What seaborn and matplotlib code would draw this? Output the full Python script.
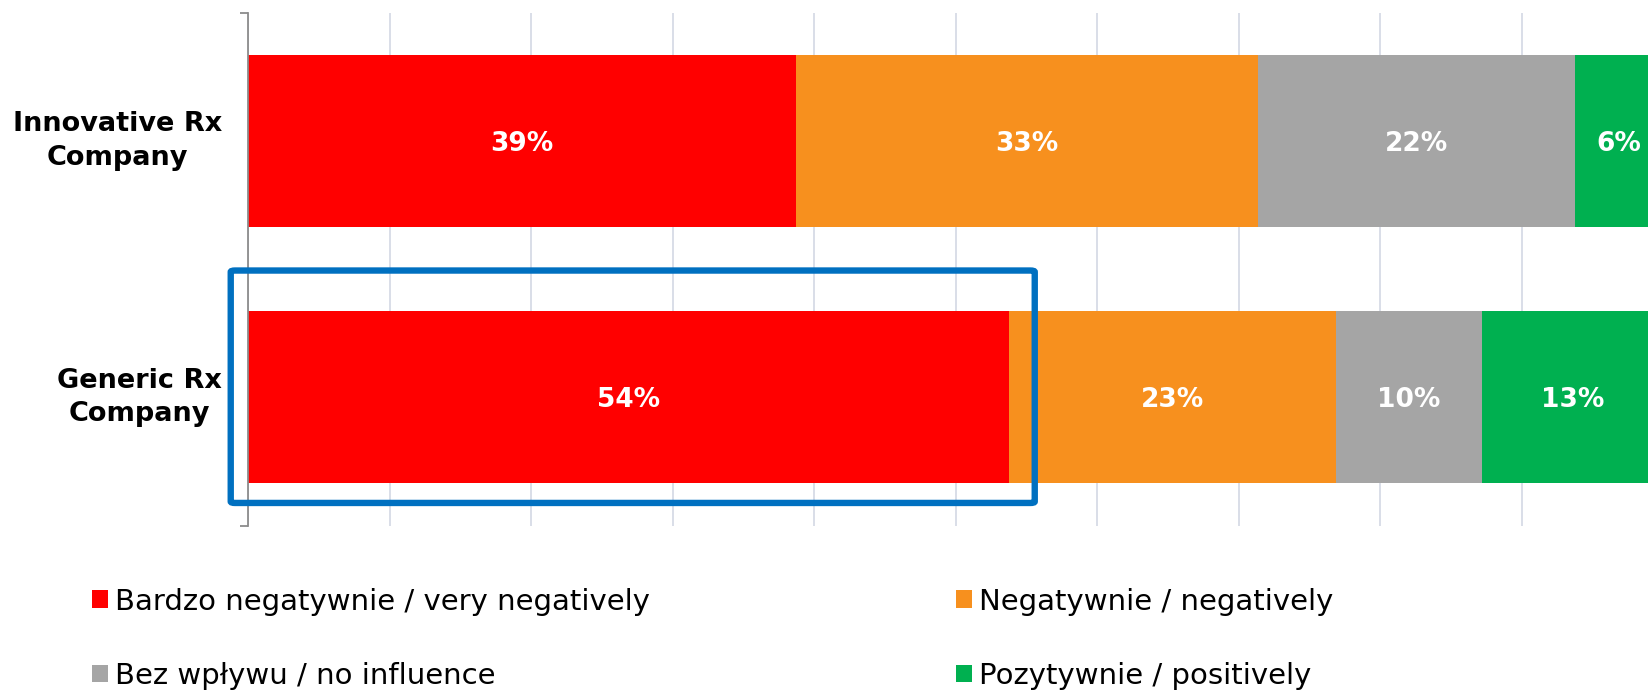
import matplotlib
matplotlib.use("Agg")
import matplotlib.pyplot as plt
import seaborn as sns
import pandas as pd
import numpy as np
from matplotlib.patches import FancyBboxPatch, Patch

categories = ["Innovative Rx\nCompany", "Generic Rx\nCompany"]
series_names = ["Bardzo negatywnie / very negatively", "Negatywnie / negatively",
                "Bez wpływu / no influence", "Pozytywnie / positively"]
very_negative = [38.7, 53.8]
negative = [32.7, 23.1]
no_influence = [22.4, 10.3]
positive = [6.2, 12.8]
colors = ["#FF0000", "#F7901E", "#A5A5A5", "#00B050"]

series = [very_negative, negative, no_influence, positive]

sns.set_theme(style="white")
plt.rcParams['font.family'] = ['DejaVu Sans']

fig = plt.figure(figsize=(16.48, 6.94), dpi=100)
ax = fig.add_axes([248/1648, 1 - 525.5/694, (1663-248)/1648, (525.5-13)/694])

data = np.array(series)  # shape (4, 2)
cum = np.cumsum(data, axis=0)
starts = cum - data

# draw from the full stack down so earlier segments overlay later ones
for i in range(len(series) - 1, -1, -1):
    df = pd.DataFrame({"cat": categories, "val": cum[i]})
    sns.barplot(data=df, y="cat", x="val", orient="h", color=colors[i],
                width=0.672, ax=ax, saturation=1, linewidth=0, zorder=2)

for i in range(len(series)):
    for j in range(len(categories)):
        cx = starts[i, j] + data[i, j] / 2
        ax.text(cx, j, f"{round(data[i, j])}%", ha="center", va="center_baseline",
                color="white", fontsize=19, fontweight="bold", zorder=5)

ax.set_xlim(0, 100)
ax.set_ylim(1.5, -0.5)
ax.set_xticks(np.arange(0, 101, 10))
ax.set_xticklabels([])
ax.tick_params(axis="x", length=0)
ax.grid(axis="x", color="#D0D4E2", linewidth=1.1, zorder=0)
ax.set_axisbelow(True)
ax.set_xlabel("")
ax.set_ylabel("")

for s in ["top", "right", "bottom"]:
    ax.spines[s].set_visible(False)
ax.spines["left"].set_color("#8C8C8C")
ax.spines["left"].set_linewidth(1.3)

ax.set_yticks([0, 1])
ax.set_yticklabels(categories, fontsize=19.5, fontweight="bold", color="black",
                   multialignment="center", linespacing=1.38, va="center")
ax.tick_params(axis="y", which="major", left=False, length=0, pad=18.7)
ax.set_yticks([-0.5, 0.5, 1.5], minor=True)
ax.tick_params(axis="y", which="minor", left=True, length=6, width=1.3,
               color="#8C8C8C", direction="out")

# highlight box
rect = FancyBboxPatch((-1.22, 0.505), 55.6 + 1.22, 1.412 - 0.505,
                      boxstyle="round,pad=0,rounding_size=0.3",
                      fill=False, edgecolor="#0070C0", linewidth=4.6,
                      clip_on=False, zorder=6, mutation_aspect=0.02)
ax.add_patch(rect)

handles = [Patch(facecolor=colors[k], edgecolor="none") for k in [0, 2, 1, 3]]
labels = [series_names[k] for k in [0, 2, 1, 3]]
fig.legend(handles, labels, ncol=2, loc="upper left",
           bbox_to_anchor=(92/1648, 1 - 587.5/694), frameon=False,
           fontsize=21, handlelength=0.55, handleheight=0.55, handletextpad=0.24,
           columnspacing=10.5, labelspacing=1.59, borderaxespad=0, borderpad=0,
           labelcolor="black")

fig.savefig("out.png", dpi=100)
